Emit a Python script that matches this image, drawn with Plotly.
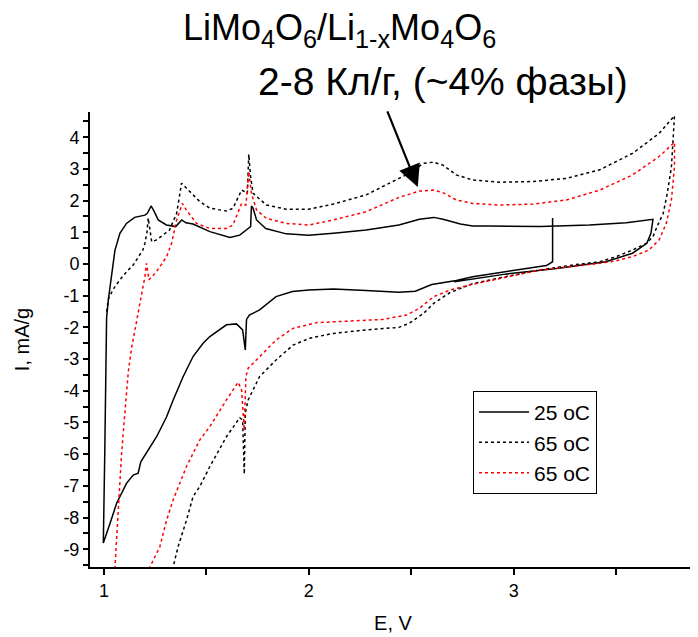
import plotly.graph_objects as go

# 25 oC (solid black) - sweep order as recorded
e_25 = [3.19, 3.19, 3.16, 3.04, 2.93, 2.80, 2.72, 2.60, 2.52, 2.44, 2.28, 2.12, 2.00, 1.92, 1.84,
        1.76, 1.71, 1.696, 1.690, 1.677, 1.647, 1.598, 1.517, 1.484, 1.435, 1.387, 1.338, 1.306,
        1.257, 1.208, 1.180, 1.167, 1.143, 1.110, 1.062, 1.030, 0.997, 1.004, 1.009, 1.013, 1.022,
        1.037, 1.054, 1.078, 1.110, 1.150, 1.200, 1.212, 1.230, 1.242, 1.265, 1.305, 1.350, 1.380,
        1.400, 1.435, 1.517, 1.615, 1.663, 1.704, 1.716, 1.720, 1.728, 1.745, 1.790, 1.890, 2.000,
        2.12, 2.28, 2.44, 2.54, 2.61, 2.655, 2.74, 2.80, 2.88, 3.13, 3.37, 3.55, 3.68, 3.67, 3.65,
        3.58, 3.45, 3.21, 2.96, 2.71]
i_25 = [1.45, 0.07, -0.05, -0.16, -0.28, -0.40, -0.52, -0.65, -0.86, -0.89, -0.84, -0.79, -0.82,
        -0.87, -1.03, -1.45, -1.61, -1.75, -2.71, -2.08, -1.89, -1.92, -2.29, -2.50, -2.92, -3.55,
        -4.29, -4.82, -5.45, -5.97, -6.24, -6.60, -6.66, -6.92, -7.55, -8.18, -8.80, -6.0, -3.5,
        -1.7, -1.1, -0.40, 0.44, 0.97, 1.28, 1.47, 1.54, 1.60, 1.83, 1.70, 1.39, 1.23, 1.18, 1.39,
        1.30, 1.26, 1.02, 0.84, 0.91, 1.12, 1.18, 1.83, 1.76, 1.39, 1.12, 0.95, 0.91, 0.97, 1.07,
        1.23, 1.41, 1.47, 1.41, 1.26, 1.20, 1.20, 1.18, 1.23, 1.30, 1.41, 0.97, 0.65, 0.34, 0.07,
        -0.14, -0.32, -0.56]

# 65 oC (dotted black)
e_65a = [1.013, 1.022, 1.045, 1.078, 1.110, 1.143, 1.190, 1.200, 1.210, 1.216, 1.222, 1.233, 1.257,
         1.320, 1.355, 1.379, 1.403, 1.468, 1.517, 1.598, 1.630, 1.672, 1.688, 1.700, 1.707, 1.716,
         1.728, 1.793, 1.890, 2.000, 2.12, 2.28, 2.44, 2.49, 2.56, 2.61, 2.655, 2.72, 2.80, 2.93,
         3.094, 3.257, 3.42, 3.58, 3.71, 3.785, 3.780, 3.770, 3.750, 3.730, 3.700, 3.680, 3.647,
         3.58, 3.50, 3.42, 3.29, 3.127, 2.96, 2.80, 2.69, 2.61, 2.56, 2.49, 2.44, 2.28, 2.12, 2.005,
         1.923, 1.84, 1.76, 1.704, 1.690, 1.685, 1.677, 1.663, 1.598, 1.517, 1.468, 1.435, 1.403,
         1.362, 1.338, 1.325]
i_65a = [-1.50, -1.10, -0.80, -0.50, -0.25, -0.03, 0.44, 0.65, 1.00, 1.45, 1.20, 0.70, 0.76, 1.07,
         1.60, 2.55, 2.39, 1.97, 1.76, 1.67, 1.76, 2.33, 2.28, 2.23, 3.46, 2.75, 2.23, 1.86, 1.73,
         1.73, 1.89, 2.18, 2.70, 2.86, 3.18, 3.21, 3.12, 2.81, 2.65, 2.58, 2.60, 2.70, 2.97, 3.49,
         4.12, 4.68, 4.12, 3.07, 2.23, 1.60, 1.18, 0.86, 0.65, 0.44, 0.23, 0.07, -0.03, -0.19, -0.40,
         -0.62, -0.90, -1.24, -1.56, -1.87, -2.00, -2.08, -2.19, -2.34, -2.56, -3.03, -3.55, -4.29,
         -4.70, -6.63, -4.92, -4.85, -5.45, -6.39, -7.02, -7.34, -8.08, -8.92, -9.55, -10.0]

# 65 oC (dotted red)
e_65b = [1.050, 1.054, 1.070, 1.086, 1.102, 1.119, 1.135, 1.151, 1.167, 1.180, 1.200, 1.208, 1.220,
         1.257, 1.306, 1.330, 1.355, 1.383, 1.403, 1.452, 1.517, 1.598, 1.630, 1.672, 1.693, 1.707,
         1.720, 1.745, 1.793, 1.890, 2.000, 2.12, 2.28, 2.44, 2.54, 2.61, 2.655, 2.72, 2.80, 2.93,
         3.094, 3.257, 3.42, 3.58, 3.71, 3.785, 3.785, 3.770, 3.745, 3.710, 3.660, 3.58, 3.50, 3.42,
         3.29, 3.127, 2.96, 2.80, 2.69, 2.61, 2.54, 2.477, 2.36, 2.20, 2.04, 1.956, 1.923, 1.84,
         1.76, 1.704, 1.693, 1.685, 1.672, 1.655, 1.598, 1.517, 1.468, 1.403, 1.338, 1.306, 1.273,
         1.225, 1.21]
i_65b = [-10.0, -9.55, -7.70, -6.00, -4.71, -3.40, -2.65, -2.08, -1.56, -1.03, -0.40, 0.02, -0.50,
         -0.24, 0.23, 0.65, 1.39, 1.91, 1.70, 1.28, 1.12, 1.12, 1.23, 1.91, 1.86, 2.91, 2.23, 1.70,
         1.44, 1.28, 1.23, 1.39, 1.65, 2.10, 2.30, 2.33, 2.25, 2.02, 1.91, 1.86, 1.89, 2.02, 2.33,
         2.81, 3.39, 3.84, 3.07, 2.02, 1.28, 0.76, 0.44, 0.23, 0.10, 0.02, -0.08, -0.19, -0.42, -0.64,
         -0.82, -1.03, -1.40, -1.61, -1.75, -1.79, -1.85, -1.98, -2.03, -2.40, -2.92, -3.29, -3.55,
         -5.24, -3.97, -3.73, -4.29, -5.13, -5.55, -6.39, -7.44, -8.08, -8.92, -9.55, -10.0]

x_ticks = [1, 2, 3]
y_ticks = [-9, -8, -7, -6, -5, -4, -3, -2, -1, 0, 1, 2, 3, 4]
y_tick_labels = ["-9", "-8", "-7", "-6", "-5", "-4", "-3", "-2", "-1", "0", "1", "2", "3", "4"]

FONT = "Arial, Liberation Sans, sans-serif"

fig = go.Figure()
fig.add_trace(go.Scatter(x=e_25, y=i_25, mode="lines", name="25 oC",
                         line=dict(color="black", width=1.5)))
fig.add_trace(go.Scatter(x=e_65a, y=i_65a, mode="lines", name="65 oC",
                         line=dict(color="black", width=1.5, dash="dot")))
fig.add_trace(go.Scatter(x=e_65b, y=i_65b, mode="lines", name="65 oC",
                         line=dict(color="red", width=1.5, dash="dot")))

fig.update_xaxes(range=[0.932, 3.89], tickvals=x_ticks, showline=True, linecolor="black", linewidth=2,
                 ticks="outside", ticklen=6, tickwidth=2, tickcolor="black", showgrid=False, zeroline=False,
                 minor=dict(dtick=0.5, tick0=0.5, ticks="outside", ticklen=6, tickwidth=2, tickcolor="black"),
                 title=dict(text="E, V", font=dict(size=20, family=FONT), standoff=16),
                 tickfont=dict(size=18, family=FONT, color="black"), automargin=False)
fig.update_yaxes(range=[-9.56, 4.795], tickvals=y_ticks, ticktext=y_tick_labels, showline=True,
                 linecolor="black", linewidth=2,
                 ticks="outside", ticklen=5, tickwidth=2, tickcolor="black", showgrid=False, zeroline=False,
                 minor=dict(dtick=0.5, tick0=0.5, ticks="outside", ticklen=5, tickwidth=2, tickcolor="black"),
                 title=dict(text="I, mA/g", font=dict(size=20, family=FONT), standoff=28),
                 tickfont=dict(size=18, family=FONT, color="black"), automargin=False)

fig.add_annotation(xref="paper", yref="paper", x=0.4125, y=1.18, xanchor="center", yanchor="middle",
                   showarrow=False,
                   text="LiMo<sub>4</sub>O<sub>6</sub>/Li<sub>1-x</sub>Mo<sub>4</sub>O<sub>6</sub>",
                   font=dict(size=36, family=FONT, color="black"))
fig.add_annotation(xref="paper", yref="paper", x=0.583, y=1.066, xanchor="center", yanchor="middle",
                   showarrow=False,
                   text="2-8 Кл/г, (~4% фазы)", font=dict(size=39, family=FONT, color="black"))
fig.add_annotation(x=2.532, y=2.43, ax=-31, ay=-77, text="", showarrow=True,
                   arrowhead=2, arrowsize=2, arrowwidth=2.2, arrowcolor="black")

# the page body adds an 8 px offset, so the figure is 8 px smaller than the window
fig.update_layout(
    width=690, height=629,
    margin=dict(l=82, r=2, t=104, b=70),
    paper_bgcolor="white", plot_bgcolor="white",
    font=dict(family=FONT, color="black"),
    showlegend=True,
    legend=dict(x=0.632, y=0.387, xanchor="left", yanchor="top", bordercolor="black", borderwidth=1,
                bgcolor="white", itemwidth=50, font=dict(size=21, family=FONT, color="black")),
)

fig.write_html("out.html")
